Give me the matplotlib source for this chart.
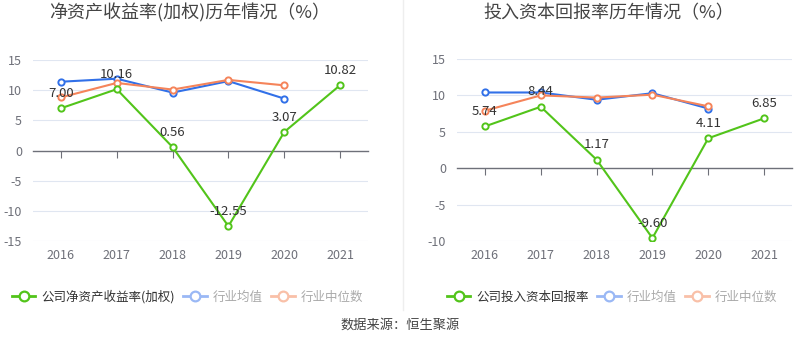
import matplotlib
matplotlib.use("Agg")
import matplotlib.pyplot as plt
from matplotlib.lines import Line2D
import numpy as np

plt.rcParams['font.family'] = ['Noto Sans CJK SC', 'DejaVu Sans']

years = ['2016', '2017', '2018', '2019', '2020', '2021']

# 净资产收益率(加权)
roe_company = [7.00, 10.16, 0.56, -12.55, 3.07, 10.82]
roe_ind_mean = [11.4, 11.9, 9.6, 11.5, 8.6]
roe_ind_median = [8.8, 11.2, 10.1, 11.7, 10.8]

# 投入资本回报率
roic_company = [5.74, 8.44, 1.17, -9.60, 4.11, 6.85]
roic_ind_mean = [10.4, 10.4, 9.4, 10.3, 8.2]
roic_ind_median = [7.9, 10.0, 9.7, 10.1, 8.5]

GREEN = '#52c41a'
BLUE = '#3170e8'
ORANGE = '#f5845a'
GRID = '#e0e6f1'
AXIS = '#6e7079'

W, H = 800, 358
fig = plt.figure(figsize=(W / 100, H / 100), dpi=100)


def px_axes(x0, x1, ytop, ybot):
    return fig.add_axes([x0 / W, 1 - ybot / H, (x1 - x0) / W, (ybot - ytop) / H])


def draw_panel(ax, company, mean, median, ylim, yticks):
    x = np.arange(len(years))
    ax.set_xlim(-0.5, len(years) - 0.5)
    ax.set_ylim(*ylim)
    ax.set_yticks(yticks)
    ax.set_yticklabels([str(t) for t in yticks])
    for t in yticks:
        if t != 0:
            ax.axhline(t, color=GRID, lw=0.8, zorder=0)
    for s in ['top', 'right', 'left']:
        ax.spines[s].set_visible(False)
    ax.spines['bottom'].set_position(('data', 0))
    ax.spines['bottom'].set_color(AXIS)
    ax.spines['bottom'].set_linewidth(1)
    ax.set_xticks(x)
    ax.tick_params(axis='x', length=5, color=AXIS, labelbottom=False)
    ax.tick_params(axis='y', length=0, labelsize=9, labelcolor=AXIS, pad=8)

    sec = ax.secondary_xaxis(0)
    sec.set_xticks(x)
    sec.set_xticklabels(years)
    sec.tick_params(length=0, labelsize=9, labelcolor=AXIS, pad=6)
    sec.spines['bottom'].set_visible(False)

    mk = dict(marker='o', markersize=4.5, markerfacecolor='white', markeredgewidth=1.4, lw=1.5)
    ax.plot(x[:len(mean)], mean, color=BLUE, zorder=3, **mk)
    ax.plot(x[:len(median)], median, color=ORANGE, zorder=3, **mk)
    ax.plot(x, company, color=GREEN, zorder=4, **mk)
    for xi, v in zip(x, company):
        ax.annotate(f'{v:.2f}', (xi, v), xytext=(0, 6), textcoords='offset points',
                    ha='center', va='bottom', fontsize=9.5, color='#333333', zorder=5)


ax1 = px_axes(33, 368, 60, 241)
draw_panel(ax1, roe_company, roe_ind_mean, roe_ind_median, (-15, 15), [-15, -10, -5, 0, 5, 10, 15])

ax2 = px_axes(457, 792, 59, 241)
draw_panel(ax2, roic_company, roic_ind_mean, roic_ind_median, (-10, 15), [-10, -5, 0, 5, 10, 15])

fig.text(190 / W, 1 - 13 / H, '净资产收益率(加权)历年情况（%）', ha='center', va='center',
         fontsize=13, color='#444444')
fig.text(609 / W, 1 - 13 / H, '投入资本回报率历年情况（%）', ha='center', va='center',
         fontsize=13, color='#444444')

# separator
fig.add_artist(Line2D([403 / W, 403 / W], [1 - 310 / H, 1], color='#eeeeee', lw=1))


def legend_handles(label):
    hk = dict(marker='o', markersize=7, markerfacecolor='white', markeredgewidth=1.6, lw=2)
    return [Line2D([], [], color=GREEN, label=label, **hk),
            Line2D([], [], color='#9ab8f5', label='行业均值', **hk),
            Line2D([], [], color='#f9c0a8', label='行业中位数', **hk)]


for handles, cx in [(legend_handles('公司净资产收益率(加权)'), 187.5),
                    (legend_handles('公司投入资本回报率'), 612)]:
    leg = fig.legend(handles=handles, loc='center', bbox_to_anchor=(cx / W, 1 - 297 / H),
                     ncol=3, frameon=False, fontsize=9, handlelength=1.9,
                     handletextpad=0.45, columnspacing=0.7)
    for i, t in enumerate(leg.get_texts()):
        t.set_color('#333333' if i == 0 else '#aaaaaa')

fig.text(0.5, 1 - 325 / H, '数据来源：恒生聚源', ha='center', va='center',
         fontsize=9.5, color='#444444')

fig.savefig('out.png', dpi=100, facecolor='white')
